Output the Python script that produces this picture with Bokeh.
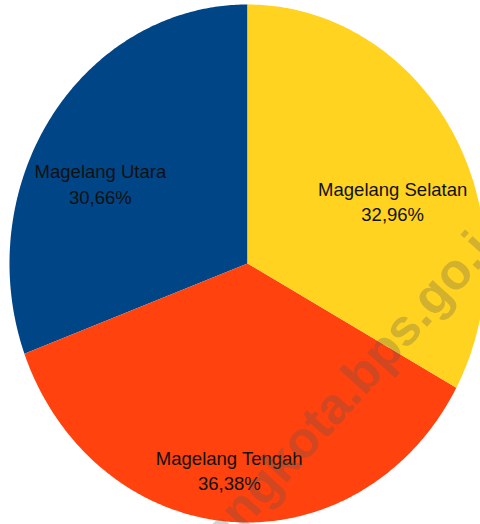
import numpy as np
from bokeh.plotting import figure
from bokeh.models import Range1d, ColumnDataSource
from bokeh.core.properties import value
from bokeh.embed import file_html
from bokeh.resources import INLINE

# ---- data ----
categories = ["Magelang Utara", "Magelang Tengah", "Magelang Selatan"]
shares = [30.66, 36.38, 32.96]
share_labels = ["30,66%", "36,38%", "32,96%"]
colors = ["#004586", "#ff420e", "#ffd320"]
watermark = "magelangkota.bps.go.id"

# ---- layout constants ----
W, H = 480, 524
CX, CY = 247, 263          # pie centre in page pixels
RX, RY = 238, 259          # pie radii in pixels
# label anchors, in unit-ellipse coordinates
label_pos = [(-0.618, 0.305), (-0.076, -0.80), (0.610, 0.236)]
# watermark anchor in page pixels
WM_X, WM_Y = 307, 433
wm_angle = np.deg2rad(48)

x0 = (0 - CX) / RX
x1 = (W - CX) / RX
y1 = CY / RY
y0 = (CY - H) / RY

p = figure(width=W, height=H, output_backend="svg", toolbar_location=None,
           x_range=Range1d(x0, x1), y_range=Range1d(y0, y1),
           min_border=0, outline_line_color=None, background_fill_color="white",
           border_fill_color="white")
p.axis.visible = False
p.xgrid.visible = False
p.ygrid.visible = False

total = sum(shares)
start = np.pi / 2
xs, ys = [], []
for s in shares:
    sweep = 2 * np.pi * s / total
    t = np.linspace(start, start + sweep, 200)
    xs.append([0.0] + list(np.cos(t)) + [0.0])
    ys.append([0.0] + list(np.sin(t)) + [0.0])
    start += sweep

p.patches(xs=xs, ys=ys, fill_color=colors, line_color=None)

texts = [f"{c}\n{l}" for c, l in zip(categories, share_labels)]
src = ColumnDataSource(dict(x=[q[0] for q in label_pos], y=[q[1] for q in label_pos], t=texts))
p.text(x="x", y="y", text="t", source=src, text_font=value("Liberation Sans"),
       text_font_size=value("18.5px"), text_align="center", text_baseline="middle",
       text_line_height=1.2, text_color="#111111")

p.text(x=[(WM_X - CX) / RX], y=[(CY - WM_Y) / RY], text=[watermark], angle=wm_angle,
       text_font=value("Liberation Sans"), text_font_style="bold",
       text_font_size=value("51px"), text_align="center", text_baseline="middle",
       text_color="#555555", text_alpha=0.27)

open("out.html", "w").write(file_html(p, INLINE))
